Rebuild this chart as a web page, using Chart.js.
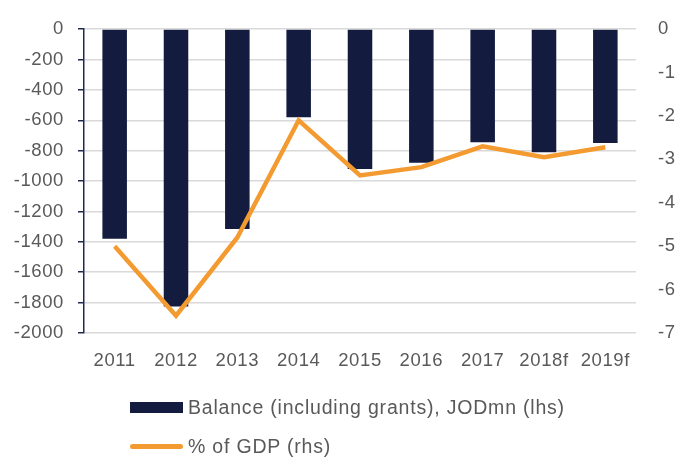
<!DOCTYPE html>
<html>
<head>
<meta charset="utf-8">
<script src="https://cdn.jsdelivr.net/npm/chart.js@4/dist/chart.umd.min.js"></script>
<style>
    body { margin: 0; background: #fff; overflow: hidden; }
    #wrap { position: relative; width: 680px; height: 468px; overflow: hidden; }
    #chart { position: absolute; left: 0; top: -4px; }
    #legend { position: absolute; left: 130px; top: 388px; font-family: "Liberation Sans", Arial, sans-serif; font-size: 19.5px; letter-spacing: 0.8px; color: #595959; }
    .item { display: flex; align-items: center; height: 39px; }
    .swatch { width: 53px; margin-right: 5px; }
</style>
</head>
<body>
<div id="wrap">
    <canvas id="chart" width="680" height="472"></canvas>
    <div id="legend"></div>
</div>
<script>
    // Datos
    const years = ['2011', '2012', '2013', '2014', '2015', '2016', '2017', '2018f', '2019f'];
    const balance = [-1380, -1825, -1315, -580, -920, -880, -745, -810, -750];
    const pctGdp = [-5.0, -6.6, -4.8, -2.1, -3.37, -3.18, -2.7, -2.95, -2.72];

    const navy = '#131c3f';
    const orange = '#f39b30';
    const grey = '#595959';
    const tickFont = { family: '"Liberation Sans", Arial, sans-serif', size: 18.5 };

    // las etiquetas del original son algo más anchas que Arial
    const letterSpacing = {
        id: 'letterSpacing',
        beforeUpdate(chart) { chart.ctx.letterSpacing = '0.6px'; },
        beforeDraw(chart) { chart.ctx.letterSpacing = '0.6px'; }
    };

    const chart = new Chart(document.getElementById('chart').getContext('2d'), {
        type: 'bar',
        data: {
            labels: years,
            datasets: [{
                type: 'line',
                label: '% of GDP (rhs)',
                data: pctGdp,
                yAxisID: 'y1',
                borderColor: orange,
                backgroundColor: orange,
                borderWidth: 4.5,
                pointRadius: 0,
                tension: 0,
                order: 0
            }, {
                label: 'Balance (including grants), JODmn (lhs)',
                data: balance,
                yAxisID: 'y',
                backgroundColor: navy,
                borderWidth: 0,
                barPercentage: 0.4,
                categoryPercentage: 1,
                order: 1
            }]
        },
        options: {
            responsive: false,
            animation: false,
            layout: { padding: { top: 11, right: 0, bottom: 76, left: 0 } },
            plugins: {
                legend: { display: false },
                tooltip: { enabled: false }
            },
            scales: {
                x: {
                    grid: { display: false },
                    border: { display: false },
                    ticks: { color: grey, font: tickFont, padding: 9, maxRotation: 0, autoSkip: false },
                    afterFit: s => { s.height = 59; }
                },
                y: {
                    position: 'left',
                    min: -2000,
                    max: 0,
                    ticks: { stepSize: 200, color: grey, font: tickFont, padding: 14, callback: v => String(v) },
                    grid: { color: '#d9d9d9', lineWidth: 1.5, tickColor: '#1f2a4f', tickLength: 6 },
                    border: { display: true, color: '#1f2a4f', width: 1.5 },
                    afterFit: s => { s.width = 84; }
                },
                y1: {
                    position: 'right',
                    min: -7,
                    max: 0,
                    ticks: { stepSize: 1, color: grey, font: tickFont, padding: 22 },
                    grid: { drawOnChartArea: false, drawTicks: false },
                    border: { display: false },
                    afterFit: s => { s.width = 44; }
                }
            }
        },
        plugins: [letterSpacing]
    });

    // Leyenda en HTML, construida desde los datasets
    const legend = document.getElementById('legend');
    [chart.data.datasets[1], chart.data.datasets[0]].forEach(ds => {
        const item = document.createElement('div');
        item.className = 'item';
        const sw = document.createElement('div');
        sw.className = 'swatch';
        if (ds.type === 'line') {
            sw.style.height = '5px';
            sw.style.borderRadius = '2.5px';
            sw.style.background = ds.borderColor;
        } else {
            sw.style.height = '11px';
            sw.style.background = ds.backgroundColor;
        }
        const txt = document.createElement('span');
        txt.textContent = ds.label;
        item.appendChild(sw);
        item.appendChild(txt);
        legend.appendChild(item);
    });
</script>
</body>
</html>
